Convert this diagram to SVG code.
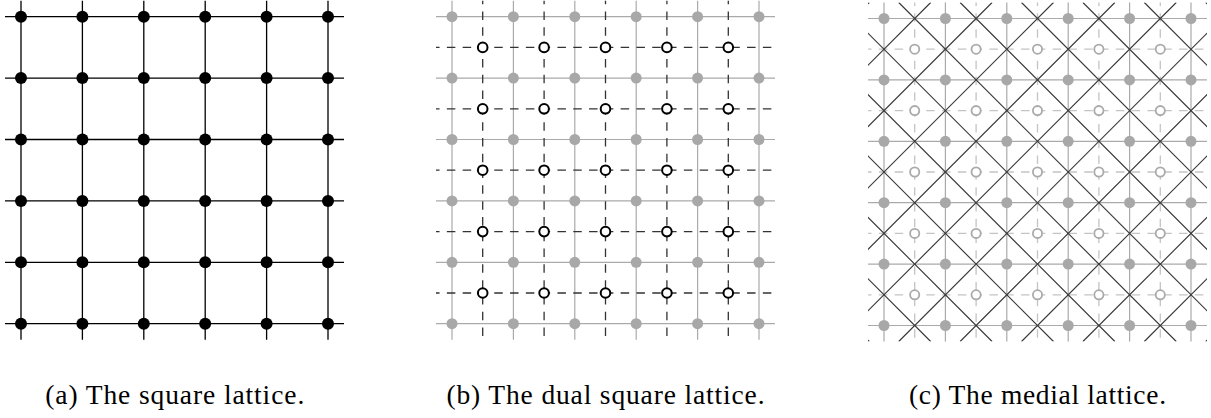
<svg xmlns="http://www.w3.org/2000/svg" width="1211" height="418" viewBox="0 0 1211 418">
<style>
.blk{stroke:#000;stroke-width:1.3;fill:none}
.gry{stroke:#aaa;stroke-width:1.2;fill:none}
.dsh{stroke:#333;stroke-width:1.3;fill:none;stroke-dasharray:8.5 7.3;stroke-dashoffset:4.95}
.ldsh{stroke:#c4c4c4;stroke-width:1.3;fill:none;stroke-dasharray:8.5 7.3;stroke-dashoffset:4.95}
.diag{stroke:#3a3a3a;stroke-width:1.15;fill:none}
.na circle{fill:#000}
.ng circle{fill:#a8a8a8}
.nd circle{fill:#fff;stroke:#000;stroke-width:2}
.nl circle{fill:#fff;stroke:#aaa;stroke-width:1.8}
.cap{font-size:27.5px;fill:#000;text-anchor:middle}
</style>
<defs>
<clipPath id="clipc"><rect x="0" y="0" width="339" height="339"/></clipPath>
</defs>

<!-- Panel (a) -->
<g id="panel-a" transform="translate(5,0.7)">
<g id="connectors-a">
<path class="blk" d="M0 16H339M0 77.4H339M0 138.8H339M0 200.2H339M0 261.6H339M0 323H339M16 0V339M77.4 0V339M138.8 0V339M200.2 0V339M261.6 0V339M323 0V339"/>
</g>
<g class="na">
<g id="a-r1c1"><circle cx="16" cy="16" r="6"/></g>
<g id="a-r1c2"><circle cx="77.4" cy="16" r="6"/></g>
<g id="a-r1c3"><circle cx="138.8" cy="16" r="6"/></g>
<g id="a-r1c4"><circle cx="200.2" cy="16" r="6"/></g>
<g id="a-r1c5"><circle cx="261.6" cy="16" r="6"/></g>
<g id="a-r1c6"><circle cx="323" cy="16" r="6"/></g>
<g id="a-r2c1"><circle cx="16" cy="77.4" r="6"/></g>
<g id="a-r2c2"><circle cx="77.4" cy="77.4" r="6"/></g>
<g id="a-r2c3"><circle cx="138.8" cy="77.4" r="6"/></g>
<g id="a-r2c4"><circle cx="200.2" cy="77.4" r="6"/></g>
<g id="a-r2c5"><circle cx="261.6" cy="77.4" r="6"/></g>
<g id="a-r2c6"><circle cx="323" cy="77.4" r="6"/></g>
<g id="a-r3c1"><circle cx="16" cy="138.8" r="6"/></g>
<g id="a-r3c2"><circle cx="77.4" cy="138.8" r="6"/></g>
<g id="a-r3c3"><circle cx="138.8" cy="138.8" r="6"/></g>
<g id="a-r3c4"><circle cx="200.2" cy="138.8" r="6"/></g>
<g id="a-r3c5"><circle cx="261.6" cy="138.8" r="6"/></g>
<g id="a-r3c6"><circle cx="323" cy="138.8" r="6"/></g>
<g id="a-r4c1"><circle cx="16" cy="200.2" r="6"/></g>
<g id="a-r4c2"><circle cx="77.4" cy="200.2" r="6"/></g>
<g id="a-r4c3"><circle cx="138.8" cy="200.2" r="6"/></g>
<g id="a-r4c4"><circle cx="200.2" cy="200.2" r="6"/></g>
<g id="a-r4c5"><circle cx="261.6" cy="200.2" r="6"/></g>
<g id="a-r4c6"><circle cx="323" cy="200.2" r="6"/></g>
<g id="a-r5c1"><circle cx="16" cy="261.6" r="6"/></g>
<g id="a-r5c2"><circle cx="77.4" cy="261.6" r="6"/></g>
<g id="a-r5c3"><circle cx="138.8" cy="261.6" r="6"/></g>
<g id="a-r5c4"><circle cx="200.2" cy="261.6" r="6"/></g>
<g id="a-r5c5"><circle cx="261.6" cy="261.6" r="6"/></g>
<g id="a-r5c6"><circle cx="323" cy="261.6" r="6"/></g>
<g id="a-r6c1"><circle cx="16" cy="323" r="6"/></g>
<g id="a-r6c2"><circle cx="77.4" cy="323" r="6"/></g>
<g id="a-r6c3"><circle cx="138.8" cy="323" r="6"/></g>
<g id="a-r6c4"><circle cx="200.2" cy="323" r="6"/></g>
<g id="a-r6c5"><circle cx="261.6" cy="323" r="6"/></g>
<g id="a-r6c6"><circle cx="323" cy="323" r="6"/></g>
</g>
</g>

<!-- Panel (b) -->
<g id="panel-b" transform="translate(436,0.7)">
<g id="connectors-b">
<path class="gry" d="M0 16H339M0 77.4H339M0 138.8H339M0 200.2H339M0 261.6H339M0 323H339M16 0V339M77.4 0V339M138.8 0V339M200.2 0V339M261.6 0V339M323 0V339"/>
<path class="dsh" d="M0 46.7H339M0 108.1H339M0 169.5H339M0 230.9H339M0 292.3H339M46.7 0V339M108.1 0V339M169.5 0V339M230.9 0V339M292.3 0V339"/>
</g>
<g class="ng">
<g id="b-r1c1"><circle cx="16" cy="16" r="5.5"/></g>
<g id="b-r1c2"><circle cx="77.4" cy="16" r="5.5"/></g>
<g id="b-r1c3"><circle cx="138.8" cy="16" r="5.5"/></g>
<g id="b-r1c4"><circle cx="200.2" cy="16" r="5.5"/></g>
<g id="b-r1c5"><circle cx="261.6" cy="16" r="5.5"/></g>
<g id="b-r1c6"><circle cx="323" cy="16" r="5.5"/></g>
<g id="b-r2c1"><circle cx="16" cy="77.4" r="5.5"/></g>
<g id="b-r2c2"><circle cx="77.4" cy="77.4" r="5.5"/></g>
<g id="b-r2c3"><circle cx="138.8" cy="77.4" r="5.5"/></g>
<g id="b-r2c4"><circle cx="200.2" cy="77.4" r="5.5"/></g>
<g id="b-r2c5"><circle cx="261.6" cy="77.4" r="5.5"/></g>
<g id="b-r2c6"><circle cx="323" cy="77.4" r="5.5"/></g>
<g id="b-r3c1"><circle cx="16" cy="138.8" r="5.5"/></g>
<g id="b-r3c2"><circle cx="77.4" cy="138.8" r="5.5"/></g>
<g id="b-r3c3"><circle cx="138.8" cy="138.8" r="5.5"/></g>
<g id="b-r3c4"><circle cx="200.2" cy="138.8" r="5.5"/></g>
<g id="b-r3c5"><circle cx="261.6" cy="138.8" r="5.5"/></g>
<g id="b-r3c6"><circle cx="323" cy="138.8" r="5.5"/></g>
<g id="b-r4c1"><circle cx="16" cy="200.2" r="5.5"/></g>
<g id="b-r4c2"><circle cx="77.4" cy="200.2" r="5.5"/></g>
<g id="b-r4c3"><circle cx="138.8" cy="200.2" r="5.5"/></g>
<g id="b-r4c4"><circle cx="200.2" cy="200.2" r="5.5"/></g>
<g id="b-r4c5"><circle cx="261.6" cy="200.2" r="5.5"/></g>
<g id="b-r4c6"><circle cx="323" cy="200.2" r="5.5"/></g>
<g id="b-r5c1"><circle cx="16" cy="261.6" r="5.5"/></g>
<g id="b-r5c2"><circle cx="77.4" cy="261.6" r="5.5"/></g>
<g id="b-r5c3"><circle cx="138.8" cy="261.6" r="5.5"/></g>
<g id="b-r5c4"><circle cx="200.2" cy="261.6" r="5.5"/></g>
<g id="b-r5c5"><circle cx="261.6" cy="261.6" r="5.5"/></g>
<g id="b-r5c6"><circle cx="323" cy="261.6" r="5.5"/></g>
<g id="b-r6c1"><circle cx="16" cy="323" r="5.5"/></g>
<g id="b-r6c2"><circle cx="77.4" cy="323" r="5.5"/></g>
<g id="b-r6c3"><circle cx="138.8" cy="323" r="5.5"/></g>
<g id="b-r6c4"><circle cx="200.2" cy="323" r="5.5"/></g>
<g id="b-r6c5"><circle cx="261.6" cy="323" r="5.5"/></g>
<g id="b-r6c6"><circle cx="323" cy="323" r="5.5"/></g>
</g>
<g class="nd">
<g id="b-d1-1"><circle cx="46.7" cy="46.7" r="4.8"/></g>
<g id="b-d1-2"><circle cx="108.1" cy="46.7" r="4.8"/></g>
<g id="b-d1-3"><circle cx="169.5" cy="46.7" r="4.8"/></g>
<g id="b-d1-4"><circle cx="230.9" cy="46.7" r="4.8"/></g>
<g id="b-d1-5"><circle cx="292.3" cy="46.7" r="4.8"/></g>
<g id="b-d2-1"><circle cx="46.7" cy="108.1" r="4.8"/></g>
<g id="b-d2-2"><circle cx="108.1" cy="108.1" r="4.8"/></g>
<g id="b-d2-3"><circle cx="169.5" cy="108.1" r="4.8"/></g>
<g id="b-d2-4"><circle cx="230.9" cy="108.1" r="4.8"/></g>
<g id="b-d2-5"><circle cx="292.3" cy="108.1" r="4.8"/></g>
<g id="b-d3-1"><circle cx="46.7" cy="169.5" r="4.8"/></g>
<g id="b-d3-2"><circle cx="108.1" cy="169.5" r="4.8"/></g>
<g id="b-d3-3"><circle cx="169.5" cy="169.5" r="4.8"/></g>
<g id="b-d3-4"><circle cx="230.9" cy="169.5" r="4.8"/></g>
<g id="b-d3-5"><circle cx="292.3" cy="169.5" r="4.8"/></g>
<g id="b-d4-1"><circle cx="46.7" cy="230.9" r="4.8"/></g>
<g id="b-d4-2"><circle cx="108.1" cy="230.9" r="4.8"/></g>
<g id="b-d4-3"><circle cx="169.5" cy="230.9" r="4.8"/></g>
<g id="b-d4-4"><circle cx="230.9" cy="230.9" r="4.8"/></g>
<g id="b-d4-5"><circle cx="292.3" cy="230.9" r="4.8"/></g>
<g id="b-d5-1"><circle cx="46.7" cy="292.3" r="4.8"/></g>
<g id="b-d5-2"><circle cx="108.1" cy="292.3" r="4.8"/></g>
<g id="b-d5-3"><circle cx="169.5" cy="292.3" r="4.8"/></g>
<g id="b-d5-4"><circle cx="230.9" cy="292.3" r="4.8"/></g>
<g id="b-d5-5"><circle cx="292.3" cy="292.3" r="4.8"/></g>
</g>
</g>

<!-- Panel (c) -->
<g id="panel-c" transform="translate(868,2.5)">
<g id="connectors-c">
<path class="gry" d="M0 16H339M0 77.4H339M0 138.8H339M0 200.2H339M0 261.6H339M0 323H339M16 0V339M77.4 0V339M138.8 0V339M200.2 0V339M261.6 0V339M323 0V339"/>
<path class="ldsh" d="M0 46.7H339M0 108.1H339M0 169.5H339M0 230.9H339M0 292.3H339M46.7 0V339M108.1 0V339M169.5 0V339M230.9 0V339M292.3 0V339"/>
</g>
<g class="ng">
<g id="c-r1c1"><circle cx="16" cy="16" r="5.5"/></g>
<g id="c-r1c2"><circle cx="77.4" cy="16" r="5.5"/></g>
<g id="c-r1c3"><circle cx="138.8" cy="16" r="5.5"/></g>
<g id="c-r1c4"><circle cx="200.2" cy="16" r="5.5"/></g>
<g id="c-r1c5"><circle cx="261.6" cy="16" r="5.5"/></g>
<g id="c-r1c6"><circle cx="323" cy="16" r="5.5"/></g>
<g id="c-r2c1"><circle cx="16" cy="77.4" r="5.5"/></g>
<g id="c-r2c2"><circle cx="77.4" cy="77.4" r="5.5"/></g>
<g id="c-r2c3"><circle cx="138.8" cy="77.4" r="5.5"/></g>
<g id="c-r2c4"><circle cx="200.2" cy="77.4" r="5.5"/></g>
<g id="c-r2c5"><circle cx="261.6" cy="77.4" r="5.5"/></g>
<g id="c-r2c6"><circle cx="323" cy="77.4" r="5.5"/></g>
<g id="c-r3c1"><circle cx="16" cy="138.8" r="5.5"/></g>
<g id="c-r3c2"><circle cx="77.4" cy="138.8" r="5.5"/></g>
<g id="c-r3c3"><circle cx="138.8" cy="138.8" r="5.5"/></g>
<g id="c-r3c4"><circle cx="200.2" cy="138.8" r="5.5"/></g>
<g id="c-r3c5"><circle cx="261.6" cy="138.8" r="5.5"/></g>
<g id="c-r3c6"><circle cx="323" cy="138.8" r="5.5"/></g>
<g id="c-r4c1"><circle cx="16" cy="200.2" r="5.5"/></g>
<g id="c-r4c2"><circle cx="77.4" cy="200.2" r="5.5"/></g>
<g id="c-r4c3"><circle cx="138.8" cy="200.2" r="5.5"/></g>
<g id="c-r4c4"><circle cx="200.2" cy="200.2" r="5.5"/></g>
<g id="c-r4c5"><circle cx="261.6" cy="200.2" r="5.5"/></g>
<g id="c-r4c6"><circle cx="323" cy="200.2" r="5.5"/></g>
<g id="c-r5c1"><circle cx="16" cy="261.6" r="5.5"/></g>
<g id="c-r5c2"><circle cx="77.4" cy="261.6" r="5.5"/></g>
<g id="c-r5c3"><circle cx="138.8" cy="261.6" r="5.5"/></g>
<g id="c-r5c4"><circle cx="200.2" cy="261.6" r="5.5"/></g>
<g id="c-r5c5"><circle cx="261.6" cy="261.6" r="5.5"/></g>
<g id="c-r5c6"><circle cx="323" cy="261.6" r="5.5"/></g>
<g id="c-r6c1"><circle cx="16" cy="323" r="5.5"/></g>
<g id="c-r6c2"><circle cx="77.4" cy="323" r="5.5"/></g>
<g id="c-r6c3"><circle cx="138.8" cy="323" r="5.5"/></g>
<g id="c-r6c4"><circle cx="200.2" cy="323" r="5.5"/></g>
<g id="c-r6c5"><circle cx="261.6" cy="323" r="5.5"/></g>
<g id="c-r6c6"><circle cx="323" cy="323" r="5.5"/></g>
</g>
<g class="nl">
<g id="c-d1-1"><circle cx="46.7" cy="46.7" r="4.6"/></g>
<g id="c-d1-2"><circle cx="108.1" cy="46.7" r="4.6"/></g>
<g id="c-d1-3"><circle cx="169.5" cy="46.7" r="4.6"/></g>
<g id="c-d1-4"><circle cx="230.9" cy="46.7" r="4.6"/></g>
<g id="c-d1-5"><circle cx="292.3" cy="46.7" r="4.6"/></g>
<g id="c-d2-1"><circle cx="46.7" cy="108.1" r="4.6"/></g>
<g id="c-d2-2"><circle cx="108.1" cy="108.1" r="4.6"/></g>
<g id="c-d2-3"><circle cx="169.5" cy="108.1" r="4.6"/></g>
<g id="c-d2-4"><circle cx="230.9" cy="108.1" r="4.6"/></g>
<g id="c-d2-5"><circle cx="292.3" cy="108.1" r="4.6"/></g>
<g id="c-d3-1"><circle cx="46.7" cy="169.5" r="4.6"/></g>
<g id="c-d3-2"><circle cx="108.1" cy="169.5" r="4.6"/></g>
<g id="c-d3-3"><circle cx="169.5" cy="169.5" r="4.6"/></g>
<g id="c-d3-4"><circle cx="230.9" cy="169.5" r="4.6"/></g>
<g id="c-d3-5"><circle cx="292.3" cy="169.5" r="4.6"/></g>
<g id="c-d4-1"><circle cx="46.7" cy="230.9" r="4.6"/></g>
<g id="c-d4-2"><circle cx="108.1" cy="230.9" r="4.6"/></g>
<g id="c-d4-3"><circle cx="169.5" cy="230.9" r="4.6"/></g>
<g id="c-d4-4"><circle cx="230.9" cy="230.9" r="4.6"/></g>
<g id="c-d4-5"><circle cx="292.3" cy="230.9" r="4.6"/></g>
<g id="c-d5-1"><circle cx="46.7" cy="292.3" r="4.6"/></g>
<g id="c-d5-2"><circle cx="108.1" cy="292.3" r="4.6"/></g>
<g id="c-d5-3"><circle cx="169.5" cy="292.3" r="4.6"/></g>
<g id="c-d5-4"><circle cx="230.9" cy="292.3" r="4.6"/></g>
<g id="c-d5-5"><circle cx="292.3" cy="292.3" r="4.6"/></g>
</g>
<g id="connectors-c-medial" clip-path="url(#clipc)">
<path class="diag" d="M-337.7 0L1.3 339M-276.3 0L62.7 339M-214.9 0L124.1 339M-153.5 0L185.5 339M-92.1 0L246.9 339M-30.7 0L308.3 339M30.7 0L369.7 339M92.1 0L431.1 339M153.5 0L492.5 339M214.9 0L553.9 339M276.3 0L615.3 339M337.7 0L676.7 339"/>
<path class="diag" d="M1.3 0L-337.7 339M62.7 0L-276.3 339M124.1 0L-214.9 339M185.5 0L-153.5 339M246.9 0L-92.1 339M308.3 0L-30.7 339M369.7 0L30.7 339M431.1 0L92.1 339M492.5 0L153.5 339M553.9 0L214.9 339M615.3 0L276.3 339M676.7 0L337.7 339"/>
</g>
</g>

<!-- Captions -->
<g font-family="'Liberation Serif', 'Times New Roman', serif">
<text class="cap" x="174.75" y="404" textLength="259" lengthAdjust="spacing">(a) The square lattice.</text>
<text class="cap" x="605.5" y="404" textLength="318" lengthAdjust="spacing">(b) The dual square lattice.</text>
<text class="cap" x="1037.5" y="404" textLength="257" lengthAdjust="spacing">(c) The medial lattice.</text>
</g>
</svg>
